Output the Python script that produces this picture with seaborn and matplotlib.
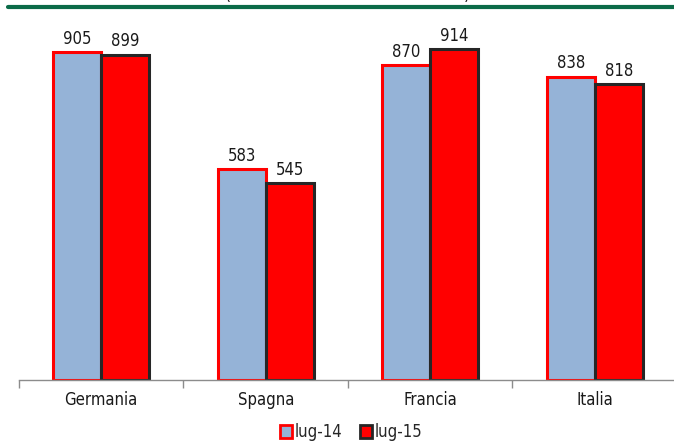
import matplotlib
matplotlib.use("Agg")
import matplotlib.pyplot as plt
from matplotlib.lines import Line2D
from matplotlib.patches import Patch
import seaborn as sns
import pandas as pd

paesi = ["Germania", "Spagna", "Francia", "Italia"]
periodi = ["lug-14", "lug-15"]
lug14 = [905, 583, 870, 838]
lug15 = [899, 545, 914, 818]

df = pd.DataFrame({
    "paese": paesi * 2,
    "periodo": [periodi[0]] * 4 + [periodi[1]] * 4,
    "valore": lug14 + lug15,
})

sns.set_theme(style="white")
plt.rcParams["font.family"] = ["DejaVu Sans"]
plt.rcParams["font.stretch"] = "condensed"

fill = {"lug-14": "#95B3D7", "lug-15": "#FF0000"}
edge = {"lug-14": "#FF0000", "lug-15": "#262626"}

fig = plt.figure(figsize=(6.74, 4.43), dpi=100)
ax = fig.add_axes([19 / 674, 1 - 380 / 443, 658 / 674, 362 / 443])

sns.barplot(data=df, x="paese", y="valore", hue="periodo", hue_order=periodi,
            palette=fill, saturation=1, width=0.585, gap=0, ax=ax,
            legend=False, linewidth=2.2)

for cont, per in zip(ax.containers, periodi):
    for bar in cont:
        bar.set_edgecolor(edge[per])
        bar.set_linewidth(2.2)
    ax.bar_label(cont, labels=[f"{v:.0f}" for v in cont.datavalues],
                 padding=3, fontsize=12, color="#1a1a1a")

ax.set_xlim(-0.5, 3.5)
ax.set_ylim(0, 1000)
ax.set_xlabel("")
ax.set_ylabel("")
ax.set_yticks([])
for s in ["top", "right", "left"]:
    ax.spines[s].set_visible(False)
ax.spines["bottom"].set_color("#8c8c8c")
ax.spines["bottom"].set_linewidth(1.0)
ax.set_xticks([-0.5, 0.5, 1.5, 2.5, 3.5], minor=False)
ax.set_xticklabels([])
ax.set_xticks(range(4), minor=True)
ax.set_xticklabels(paesi, minor=True, fontsize=12, color="#1a1a1a")
ax.tick_params(axis="x", which="major", length=6, color="#8c8c8c", width=1,
               direction="out", bottom=True)
ax.tick_params(axis="x", which="minor", length=0, pad=8)

# header rule and the subtitle running off the top edge
fig.add_artist(Line2D([8 / 674, 1], [1 - 7 / 443] * 2, color="#0B6B48",
                      linewidth=3, transform=fig.transFigure))
fig.text(348 / 674, 1 - 4 / 443, "(consistenze in miliardi di euro)",
         ha="center", va="bottom", fontsize=12.4, color="#1a1a1a")

handles = [Patch(facecolor=fill[p], edgecolor=edge[p], linewidth=2, label=p)
           for p in periodi]
fig.legend(handles=handles, loc="center", bbox_to_anchor=(351 / 674, 1 - 432 / 443),
           ncol=2, frameon=False, fontsize=12, handlelength=0.7, handleheight=0.8,
           handletextpad=0.15, columnspacing=1.1, borderpad=0)

fig.savefig("out.png", dpi=100)
